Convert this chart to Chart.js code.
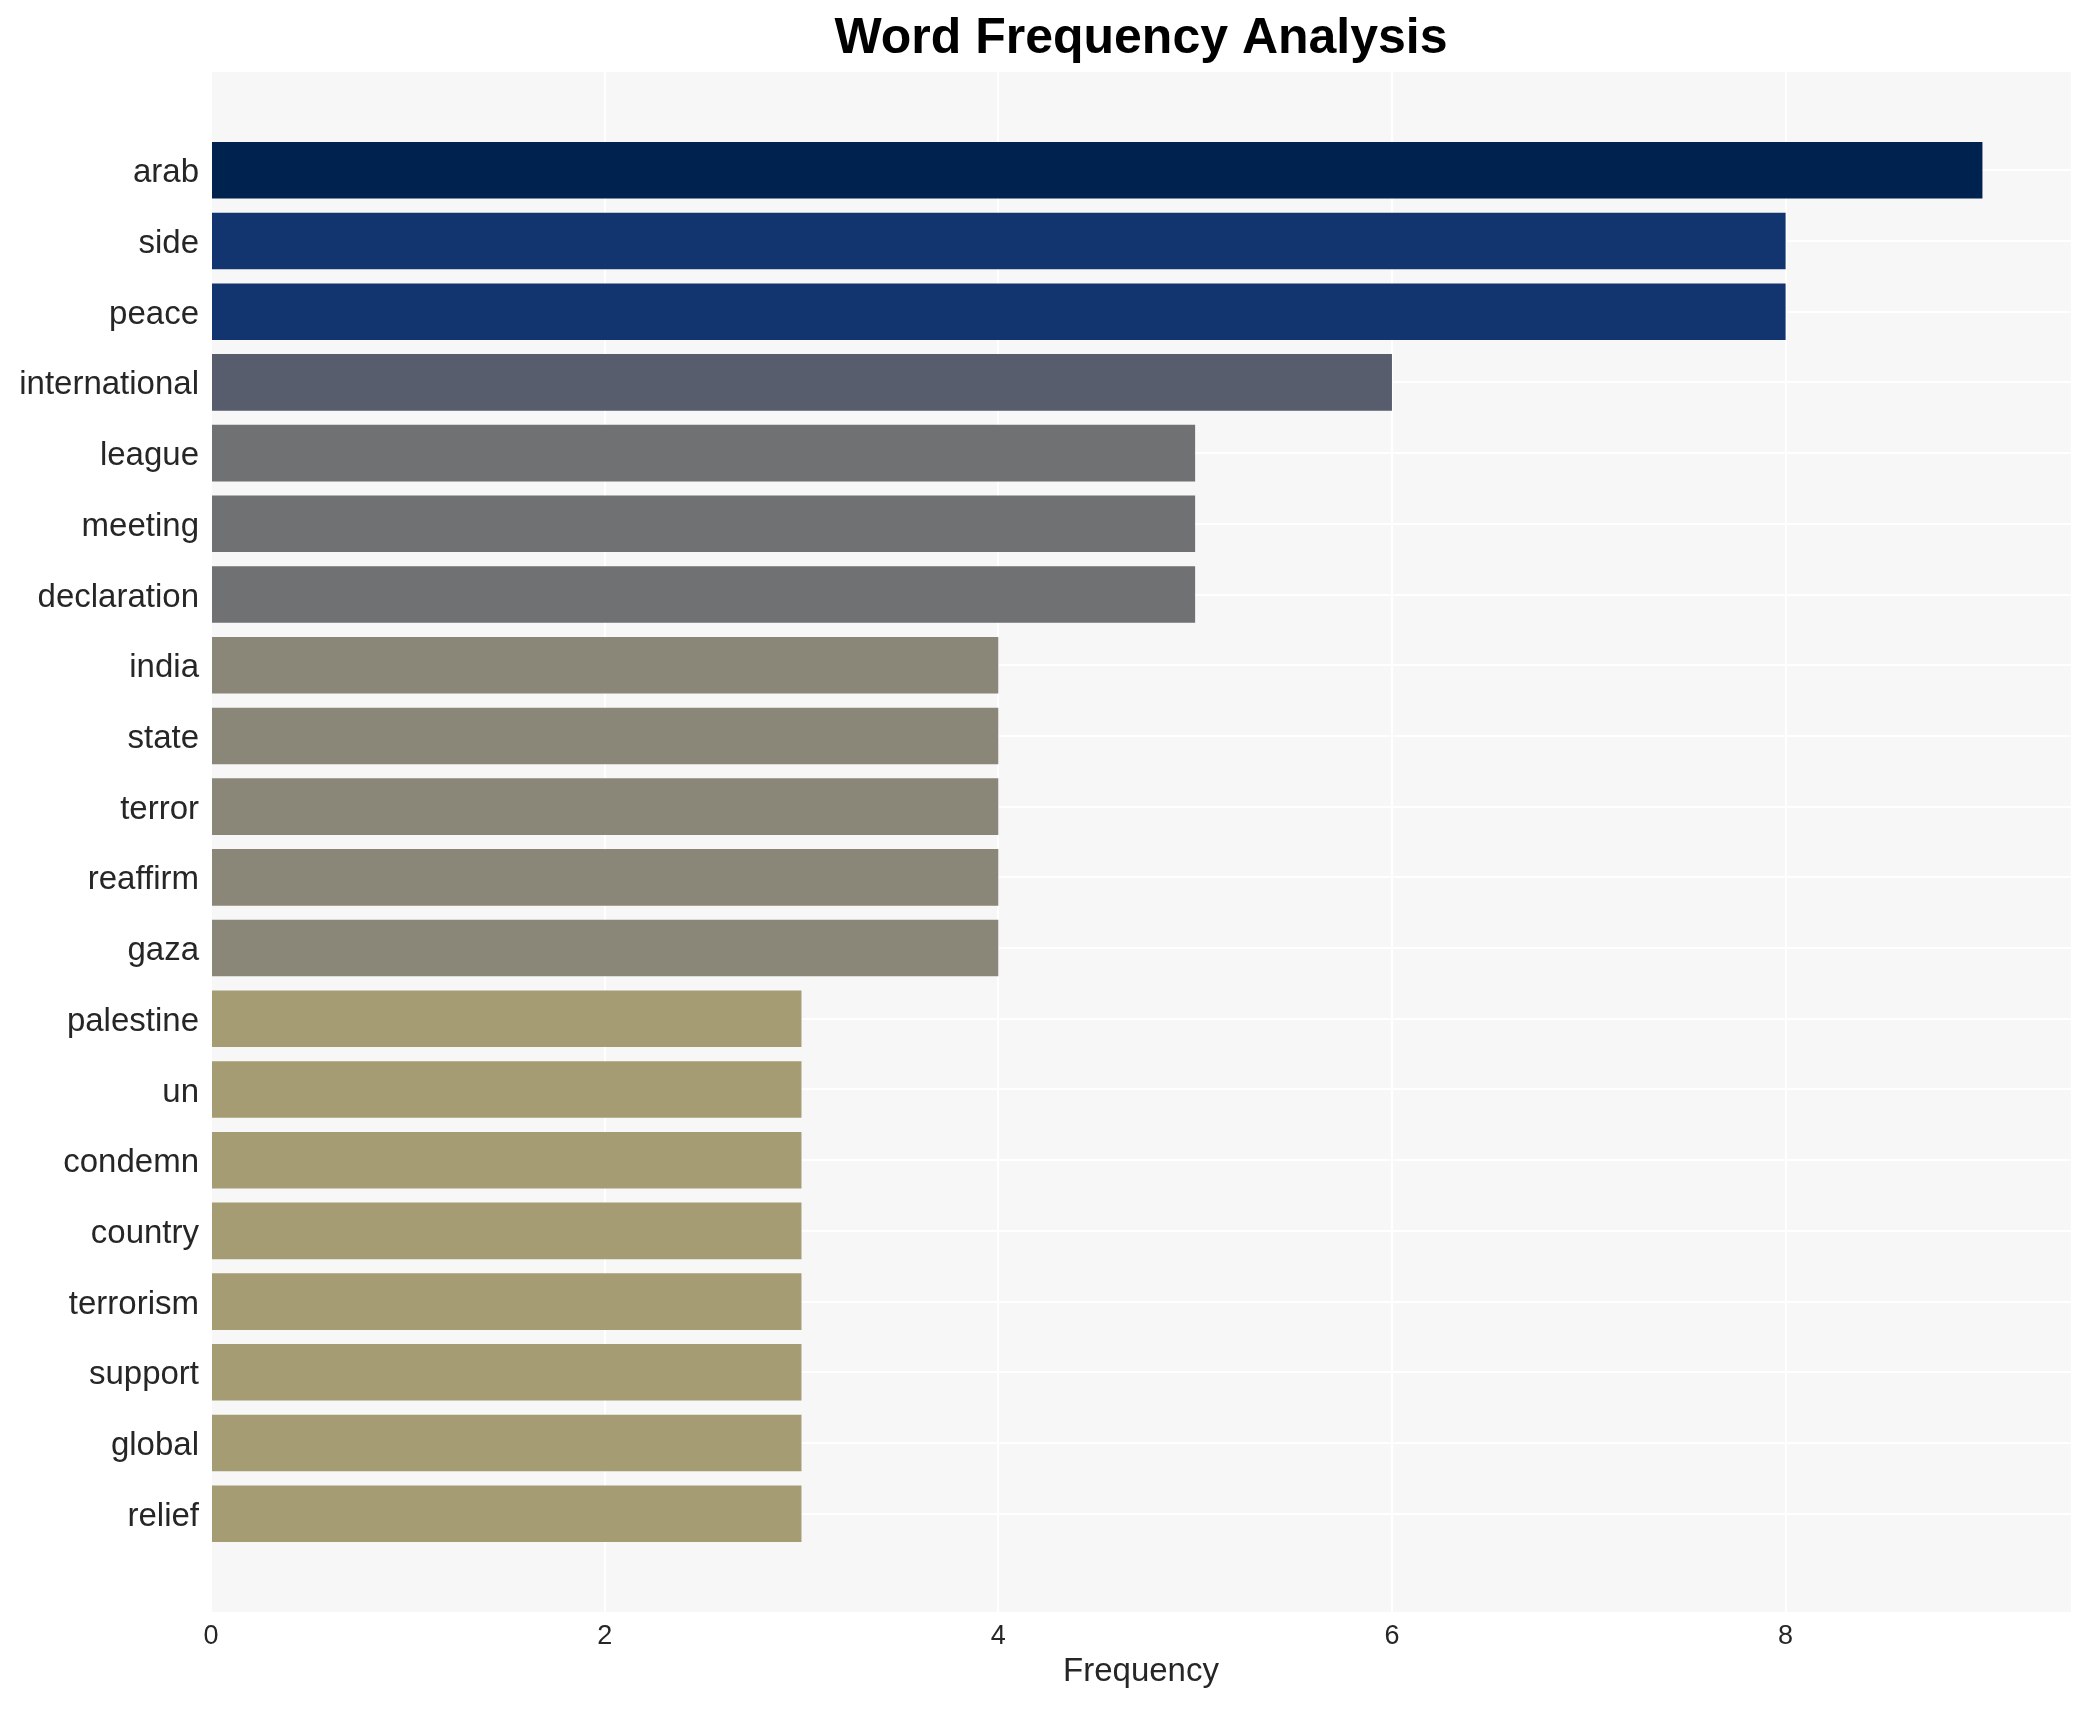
<!DOCTYPE html>
<html>
<head>
<meta charset="utf-8">
<script src="https://cdn.jsdelivr.net/npm/chart.js@4.4.1/dist/chart.umd.min.js"></script>
<style>
html,body{margin:0;padding:0;background:#ffffff;}
#wrap{width:2091px;height:1710px;position:relative;}
</style>
</head>
<body>
<div id="wrap"><canvas id="c" width="2091" height="1710"></canvas></div>
<script>
const words = ["arab","side","peace","international","league","meeting","declaration","india","state","terror","reaffirm","gaza","palestine","un","condemn","country","terrorism","support","global","relief"];
const counts = [9,8,8,6,5,5,5,4,4,4,4,4,3,3,3,3,3,3,3,3];
const barColors = ["#00224e","#123570","#123570","#575d6d","#707173","#707173","#707173","#8a8678","#8a8678","#8a8678","#8a8678","#8a8678","#a59c74","#a59c74","#a59c74","#a59c74","#a59c74","#a59c74","#a59c74","#a59c74"];
const xTicks = [0,2,4,6,8];

const bgPlugin = {
  id: 'plotBg',
  beforeDraw(chart) {
    const {ctx, chartArea: a} = chart;
    ctx.save();
    ctx.fillStyle = '#f7f7f7';
    ctx.fillRect(a.left, a.top, a.right - a.left, a.bottom - a.top);
    ctx.restore();
  }
};

const font = "'Liberation Sans', Arial, Helvetica, sans-serif";

new Chart(document.getElementById('c'), {
  type: 'bar',
  data: {
    datasets: [{
      data: words.map((w, i) => ({x: counts[i], y: i})),
      backgroundColor: barColors,
      borderWidth: 0,
      barPercentage: 0.8,
      categoryPercentage: 1.0
    }]
  },
  options: {
    indexAxis: 'y',
    responsive: false,
    animation: false,
    devicePixelRatio: 1,
    layout: {padding: {left: 0, right: 20, top: 0, bottom: 0}},
    plugins: {
      legend: {display: false},
      tooltip: {enabled: false},
      title: {
        display: true,
        fullSize: false,
        text: 'Word Frequency Analysis',
        color: '#000000',
        font: {family: font, size: 50, weight: 'bold', lineHeight: 1.0},
        padding: {top: 14, bottom: 8}
      }
    },
    scales: {
      x: {
        type: 'linear',
        min: 0,
        max: 9.45,
        afterBuildTicks(scale) { scale.ticks = xTicks.map(v => ({value: v})); },
        afterFit(scale) { scale.height = 98; },
        grid: {color: '#ffffff', lineWidth: 2, drawTicks: false},
        border: {display: false},
        ticks: {color: '#262626', font: {family: font, size: 27}, padding: 8},
        title: {display: true, text: 'Frequency', color: '#262626', font: {family: font, size: 33}, padding: {top: 4, bottom: 18}}
      },
      y: {
        type: 'linear',
        reverse: true,
        offset: false,
        min: -1.39,
        max: 20.39,
        afterBuildTicks(scale) { scale.ticks = words.map((w, i) => ({value: i})); },
        afterFit(scale) { scale.width = 211; },
        grid: {color: '#ffffff', lineWidth: 2, drawTicks: false, offset: false},
        border: {display: false},
        ticks: {
          color: '#262626',
          font: {family: font, size: 33},
          padding: 12,
          labelOffset: 3,
          autoSkip: false,
          callback: (v) => words[v]
        }
      }
    }
  },
  plugins: [bgPlugin]
});
</script>
</body>
</html>
